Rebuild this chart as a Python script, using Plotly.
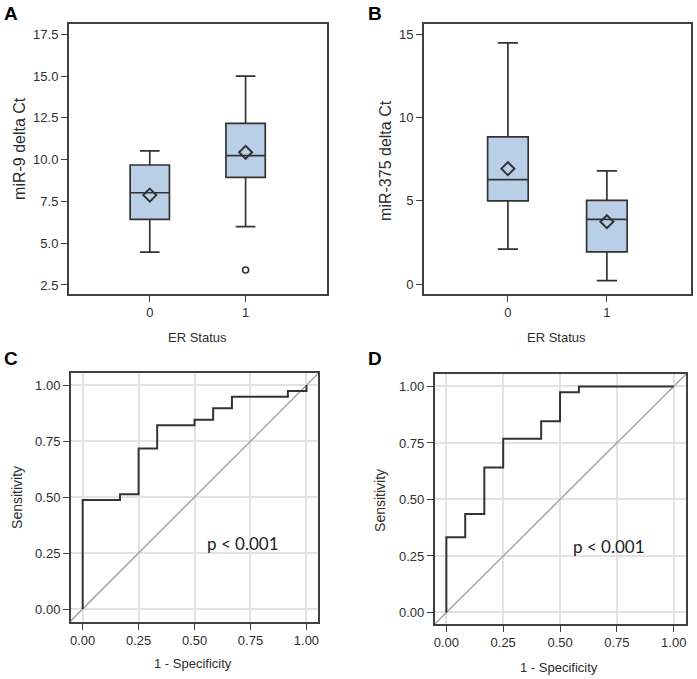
import plotly.graph_objects as go

# ---------------- data ----------------
er_status = [0, 1]

# Panel A: miR-9 delta Ct
a_q1 = [6.43, 8.94]
a_median = [8.02, 10.24]
a_q3 = [9.68, 12.17]
a_low = [4.47, 5.99]
a_high = [10.53, 15.0]
a_mean = [7.88, 10.44]
a_outlier_x = [1]
a_outlier_y = [3.4]

# Panel B: miR-375 delta Ct
b_q1 = [5.0, 1.93]
b_median = [6.28, 3.89]
b_q3 = [8.85, 5.03]
b_low = [2.1, 0.2]
b_high = [14.5, 6.8]
b_mean = [6.94, 3.75]

# Panel C: ROC (miR-9)
c_fpr = [0.0, 0.0, 0.167, 0.25, 0.333, 0.5, 0.583, 0.667, 0.917, 1.0]
c_tpr = [0.0, 0.487, 0.513, 0.718, 0.821, 0.846, 0.897, 0.949, 0.974, 1.0]

# Panel D: ROC (miR-375)
d_fpr = [0.0, 0.0, 0.083, 0.167, 0.25, 0.417, 0.5, 0.583, 1.0]
d_tpr = [0.0, 0.333, 0.436, 0.641, 0.769, 0.846, 0.974, 1.0, 1.0]

a_ticks = [2.5, 5.0, 7.5, 10.0, 12.5, 15.0, 17.5]
b_ticks = [0, 5, 10, 15]
roc_ticks = [0.0, 0.25, 0.5, 0.75, 1.0]

# ---------------- style ----------------
W, H = 697, 679
FONT = "Arial, Liberation Sans, sans-serif"
TXT = "#2e2e2e"
EDGE = "#333333"
FILL = "#b9cfe8"
GRID = "#e2e2e2"

def px(x):
    return x / W

def py(y):
    return 1 - y / H

fig = go.Figure()

def add_box(xa, ya, q1, med, q3, lo, hi, mean):
    fig.add_trace(go.Box(
        x=er_status, q1=q1, median=med, q3=q3, lowerfence=lo, upperfence=hi,
        width=0.41, whiskerwidth=0.5, fillcolor=FILL,
        line=dict(color=EDGE, width=1.7), boxpoints=False,
        xaxis=xa, yaxis=ya, showlegend=False, hoverinfo="skip"))
    fig.add_trace(go.Scatter(
        x=er_status, y=mean, mode="markers",
        marker=dict(symbol="diamond-open", size=10, color=EDGE,
                    line=dict(width=2, color=EDGE)),
        xaxis=xa, yaxis=ya, showlegend=False, hoverinfo="skip"))

add_box("x", "y", a_q1, a_median, a_q3, a_low, a_high, a_mean)
fig.add_trace(go.Scatter(
    x=a_outlier_x, y=a_outlier_y, mode="markers",
    marker=dict(symbol="circle-open", size=6, color=EDGE, line=dict(width=1.6, color=EDGE)),
    xaxis="x", yaxis="y", showlegend=False, hoverinfo="skip"))
add_box("x2", "y2", b_q1, b_median, b_q3, b_low, b_high, b_mean)

def add_roc(xa, ya, fpr, tpr):
    fig.add_trace(go.Scatter(
        x=[-0.2, 1.2], y=[-0.2, 1.2], mode="lines",
        line=dict(color="#a5a5a5", width=1.5),
        xaxis=xa, yaxis=ya, showlegend=False, hoverinfo="skip"))
    fig.add_trace(go.Scatter(
        x=fpr, y=tpr, mode="lines", line=dict(color=EDGE, width=2, shape="hv"),
        xaxis=xa, yaxis=ya, showlegend=False, hoverinfo="skip"))

add_roc("x3", "y3", c_fpr, c_tpr)
add_roc("x4", "y4", d_fpr, d_tpr)

common = dict(showline=True, mirror=True, linecolor="#404040", linewidth=1.6,
              ticks="outside", ticklen=6, tickwidth=1.3, tickcolor="#404040",
              tickfont=dict(family=FONT, size=13, color=TXT), zeroline=False)

layout = dict(
    width=W, height=H, margin=dict(l=0, r=0, t=0, b=0),
    paper_bgcolor="white", plot_bgcolor="white",
    xaxis=dict(domain=[px(68), px(327)], range=[-0.845, 1.85], tickvals=er_status,
               showgrid=False, anchor="y", **common),
    yaxis=dict(domain=[py(294), py(24)], range=[1.96, 18.12], tickvals=a_ticks,
               tickformat=".1f", showgrid=False, anchor="x", **common),
    xaxis2=dict(domain=[px(424), px(692)], range=[-0.85, 1.85], tickvals=er_status,
                showgrid=False, anchor="y2", **common),
    yaxis2=dict(domain=[py(294), py(24)], range=[-0.6, 15.64], tickvals=b_ticks,
                showgrid=False, anchor="x2", **common),
    xaxis3=dict(domain=[px(70), px(318)], range=[-0.053, 1.052], tickvals=roc_ticks,
                tickformat=".2f", showgrid=True, gridcolor=GRID, gridwidth=1.5,
                anchor="y3", **common),
    yaxis3=dict(domain=[py(622), py(373)], range=[-0.058, 1.055], tickvals=roc_ticks,
                tickformat=".2f", showgrid=True, gridcolor=GRID, gridwidth=1.5,
                anchor="x3", **common),
    xaxis4=dict(domain=[px(435), px(687)], range=[-0.051, 1.054], tickvals=roc_ticks,
                tickformat=".2f", showgrid=True, gridcolor=GRID, gridwidth=1.5,
                anchor="y4", **common),
    yaxis4=dict(domain=[py(624), py(374)], range=[-0.051, 1.055], tickvals=roc_ticks,
                tickformat=".2f", showgrid=True, gridcolor=GRID, gridwidth=1.5,
                anchor="x4", **common),
)
fig.update_layout(**layout)

def ann(text, x, y, size=13, angle=0, color=TXT, family=FONT, bold=False):
    if bold:
        text = "<b>" + text + "</b>"
    fig.add_annotation(text=text, x=px(x), y=py(y), xref="paper", yref="paper",
                       showarrow=False, textangle=angle, xanchor="center", yanchor="middle",
                       font=dict(family=family, size=size, color=color))

ann("A", 10, 13, size=19, color="black", bold=True)
ann("B", 375, 13, size=19, color="black", bold=True)
ann("C", 10, 358, size=19, color="black", bold=True)
ann("D", 375, 358, size=19, color="black", bold=True)

ann("miR-9 delta Ct", 18, 148, size=16, angle=-90)
ann("miR-375 delta Ct", 385, 160, size=16, angle=-90)
ann("ER Status", 197, 337, size=13)
ann("ER Status", 557, 337, size=13)
ann("Sensitivity", 16, 497, size=14, angle=-90)
ann("Sensitivity", 380, 500, size=14, angle=-90)
ann("1 - Specificity", 193, 663, size=13)
ann("1 - Specificity", 560, 667, size=13)
ann("p &lt; 0.001", 243, 543, size=17, color="#222222", family="Lato, Open Sans, sans-serif")
ann("p &lt; 0.001", 610, 546, size=17, color="#222222", family="Lato, Open Sans, sans-serif")

fig.write_html("out.html", config={"displayModeBar": False},
               post_script="document.body.style.margin='0';document.body.style.overflow='hidden';")
